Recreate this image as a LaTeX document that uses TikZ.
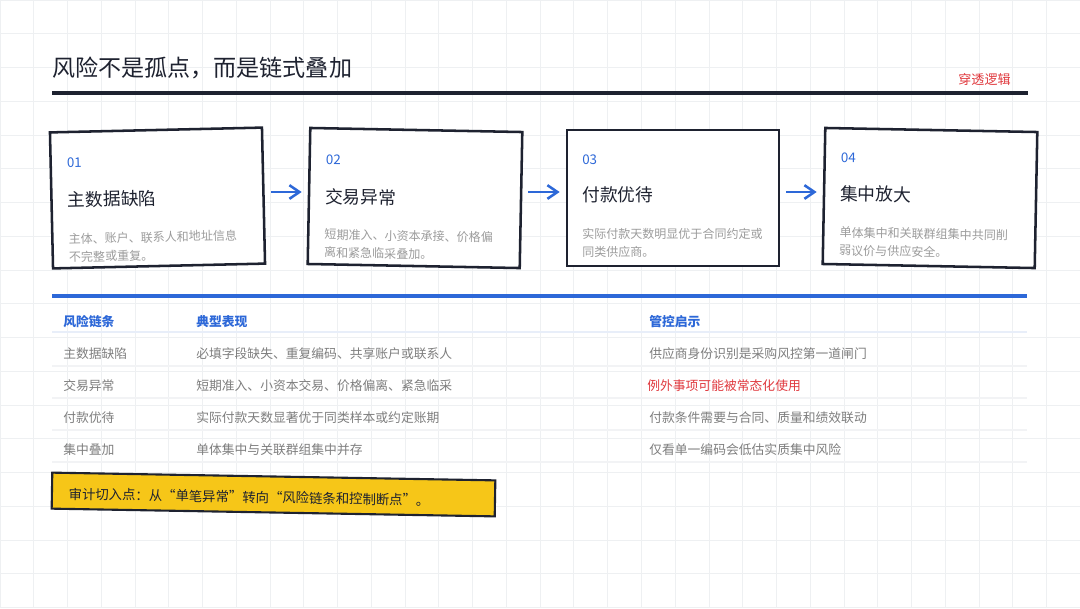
\documentclass[tikz,border=0pt]{standalone}
\usepackage{fontspec}
\setmainfont{Noto Sans CJK SC}
\usetikzlibrary{arrows.meta}

\definecolor{ink}{HTML}{1E2230}
\definecolor{linkblue}{HTML}{2D68D8}
\definecolor{softgray}{HTML}{9C9C9C}
\definecolor{rowgray}{HTML}{7E7E7E}
\definecolor{alertred}{HTML}{E0393E}
\definecolor{noteyellow}{HTML}{F6C618}
\definecolor{gridgray}{HTML}{EEF0F2}
\definecolor{headline}{HTML}{E8EEF9}
\definecolor{rowline}{HTML}{F2F3F5}

\begin{document}
\begin{tikzpicture}[x=0.025cm, y=-0.025cm,
	card/.style={draw=ink, line width=1.8pt, fill=white, minimum width=5.3cm, minimum height=3.4cm, inner sep=0pt},
	cardnum/.style={anchor=west, inner sep=0pt, text=linkblue, font=\fontsize{9.5}{11}\selectfont},
	cardhead/.style={anchor=west, inner sep=0pt, text=ink, font=\fontsize{12.6}{15}\selectfont},
	carddesc/.style={anchor=west, inner sep=0pt, align=left, text=softgray, font=\fontsize{8.55}{12.8}\selectfont},
	flow/.style={draw=linkblue, line width=1.8pt, -{Straight Barb[length=2.5mm, width=3.4mm]}, shorten <=4.3pt, shorten >=4.3pt},
	colhead/.style={anchor=west, inner sep=0pt, text=linkblue, font=\fontsize{9.1}{11}\selectfont\bfseries},
	cell/.style={anchor=west, inner sep=0pt, text=rowgray, font=\fontsize{9.1}{11}\selectfont}]
	
	\useasboundingbox (0,0) rectangle (1080,608);
	\fill[white] (0,0) rectangle (1080,608);
	\draw[gridgray, line width=0.6pt, step=0.84375cm] (0,608) grid (1080,0);
	
	\node[anchor=west, inner sep=0pt, text=ink, font=\fontsize{16.4}{20}\selectfont] (title) at (52,68) {风险不是孤点，而是链式叠加};
	\node[anchor=east, inner sep=0pt, text=alertred, font=\fontsize{9.3}{11}\selectfont] (tag) at (1011,79) {穿透逻辑};
	\coordinate (rulel) at (52,93);
	\coordinate (ruler) at (1028,93);
	\draw[ink, line width=2.2pt] (rulel) -- (ruler);
	
	\begin{scope}[shift={(157.5,198)}, rotate=1.3, transform shape]
		\node[card] (risk1) at (0,0) {};
		\node[cardnum] (num1) at (-90,-37) {01};
		\node[cardhead] (head1) at (-90,0) {主数据缺陷};
		\node[carddesc] (desc1) at (-90,48) {主体、账户、联系人和地址信息\\不完整或重复。};
	\end{scope}
	
	\begin{scope}[shift={(415,198)}, rotate=-1.1, transform shape]
		\node[card] (risk2) at (0,0) {};
		\node[cardnum] (num2) at (-90,-37) {02};
		\node[cardhead] (head2) at (-90,0) {交易异常};
		\node[carddesc] (desc2) at (-90,47) {短期准入、小资本承接、价格偏\\离和紧急临采叠加。};
	\end{scope}
	
	\begin{scope}[shift={(673,198)}, transform shape]
		\node[card] (risk3) at (0,0) {};
		\node[cardnum] (num3) at (-91,-38) {03};
		\node[cardhead] (head3) at (-91,-3) {付款优待};
		\node[carddesc] (desc3) at (-91,45) {实际付款天数明显优于合同约定或\\同类供应商。};
	\end{scope}
	
	\begin{scope}[shift={(930,198)}, rotate=-1.1, transform shape]
		\node[card] (risk4) at (0,0) {};
		\node[cardnum] (num4) at (-90,-39) {04};
		\node[cardhead] (head4) at (-90,-3) {集中放大};
		\node[carddesc] (desc4) at (-90,45) {单体集中和关联群组集中共同削\\弱议价与供应安全。};
	\end{scope}
	
	\coordinate (lane) at (0,192);
	\draw[flow] (risk1.east |- lane) -- (risk2.west |- lane);
	\draw[flow] (risk2.east |- lane) -- (risk3.west |- lane);
	\draw[flow] (risk3.east |- lane) -- (risk4.west |- lane);
	
	\coordinate (splitl) at (52,296);
	\coordinate (splitr) at (1027,296);
	\draw[linkblue, line width=2.2pt] (splitl) -- (splitr);
	
	\node[colhead] (colchain) at (63,322) {风险链条};
	\node[colhead] (colsign) at (196,322) {典型表现};
	\node[colhead] (colhint) at (649,322) {管控启示};
	\draw[headline, line width=1.4pt] (52,332) -- (1027,332);
	
	\node[cell] (chain1) at (63,354) {主数据缺陷};
	\node[cell] (sign1) at (196,354) {必填字段缺失、重复编码、共享账户或联系人};
	\node[cell] (hint1) at (649,354) {供应商身份识别是采购风控第一道闸门};
	\draw[rowline, line width=0.8pt] (52,366) -- (1027,366);
	
	\node[cell] (chain2) at (63,386) {交易异常};
	\node[cell] (sign2) at (196,386) {短期准入、小资本交易、价格偏离、紧急临采};
	\node[cell, text=alertred] (hint2) at (647,386) {例外事项可能被常态化使用};
	\draw[rowline, line width=0.8pt] (52,398) -- (1027,398);
	
	\node[cell] (chain3) at (63,418) {付款优待};
	\node[cell] (sign3) at (196,418) {实际付款天数显著优于同类样本或约定账期};
	\node[cell] (hint3) at (649,418) {付款条件需要与合同、质量和绩效联动};
	\draw[rowline, line width=0.8pt] (52,430) -- (1027,430);
	
	\node[cell] (chain4) at (63,450) {集中叠加};
	\node[cell] (sign4) at (196,450) {单体集中与关联群组集中并存};
	\node[cell] (hint4) at (649,450) {仅看单一编码会低估实质集中风险};
	\draw[rowline, line width=0.8pt] (52,462) -- (1027,462);
	
	\begin{scope}[shift={(273.5,494.5)}, rotate=-1, transform shape]
		\node[draw=ink, line width=1.5pt, fill=noteyellow, minimum width=11.075cm, minimum height=0.9cm, inner sep=0pt] (audit) at (0,0) {};
		\node[anchor=west, inner sep=0pt, text=ink, font=\fontsize{9.5}{11}\selectfont] (audittext) at (-205,3) {审计切入点：从“单笔异常”转向“风险链条和控制断点”。};
	\end{scope}
	
\end{tikzpicture}
\end{document}
